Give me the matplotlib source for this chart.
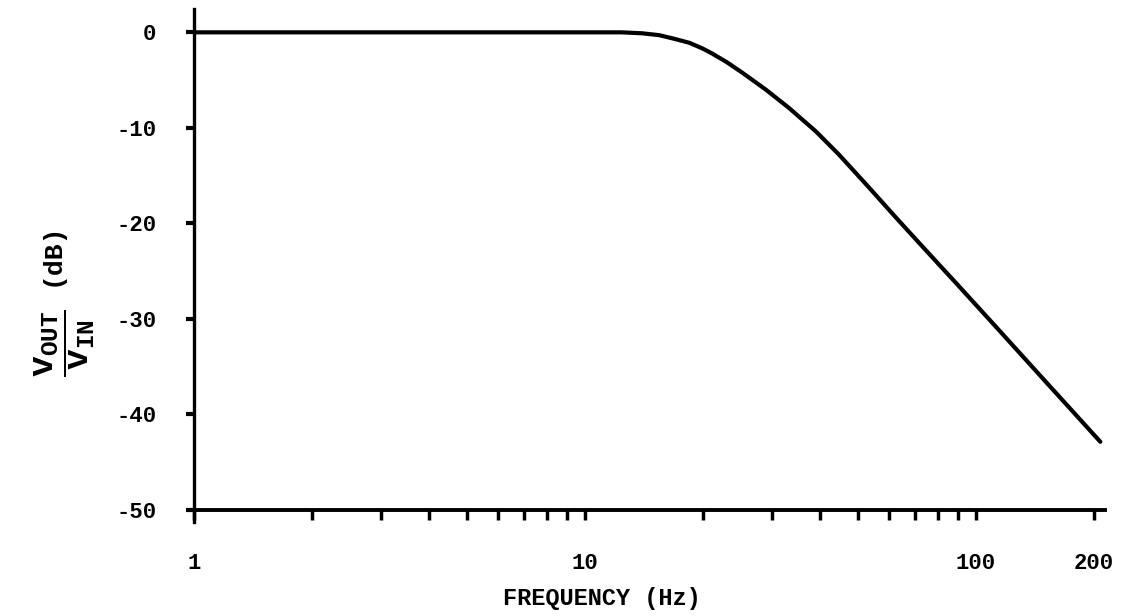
import matplotlib

matplotlib.use("Agg")
import matplotlib.pyplot as plt
from matplotlib.ticker import FixedLocator, NullFormatter

# values
FREQ_HZ = [1, 5, 10, 12.4, 14.0, 15.5, 17.0, 18.5, 20.0, 21.1, 23.0, 25.2,
           29.0, 33.2, 39.0, 44.6, 52.3, 62.4, 72.8, 90.0, 114.5, 150.0, 208.0]
GAIN_DB = [0, 0, 0, 0, -0.1, -0.3, -0.7, -1.1, -1.7, -2.2, -3.1, -4.2,
           -6.0, -7.9, -10.4, -12.8, -15.9, -19.4, -22.4, -26.5, -31.2, -36.5, -42.9]

Y_TICKS = [0, -10, -20, -30, -40, -50]
X_MAJOR = [1, 10, 100, 200]
X_LABELS = ["1", "10", "100", "200"]
X_MINOR = [2, 3, 4, 5, 6, 7, 8, 9, 20, 30, 40, 50, 60, 70, 80, 90]

FONT = "Liberation Mono"
plt.rcParams["font.family"] = FONT
plt.rcParams["font.weight"] = "bold"
plt.rcParams["axes.unicode_minus"] = False
plt.rcParams["mathtext.fontset"] = "custom"
plt.rcParams["mathtext.rm"] = "Liberation Mono:bold"
plt.rcParams["mathtext.it"] = "Liberation Mono:bold"
plt.rcParams["mathtext.bf"] = "Liberation Mono:bold"

fig = plt.figure(figsize=(11.31, 6.16), dpi=100)
ax = fig.add_axes([0.1662, 0.1526, 0.8108, 0.8321])

ax.plot(FREQ_HZ, GAIN_DB, color="black", linewidth=3.0, solid_capstyle="round")

ax.set_xscale("log")
ax.set_xlim(10 ** (-6 / 391), 10 ** (911 / 391))
ax.set_ylim(-51.3, 2.4)

for side in ("top", "right"):
    ax.spines[side].set_visible(False)
ax.spines["left"].set_position(("data", 1))
ax.spines["bottom"].set_position(("data", -50))
ax.spines["left"].set_linewidth(2.4)
ax.spines["bottom"].set_linewidth(2.8)

ax.set_yticks(Y_TICKS)
ax.set_yticklabels([str(v) for v in Y_TICKS])
ax.xaxis.set_major_locator(FixedLocator(X_MAJOR))
ax.set_xticklabels(X_LABELS)
ax.xaxis.set_minor_locator(FixedLocator(X_MINOR))
ax.xaxis.set_minor_formatter(NullFormatter())

ax.tick_params(axis="y", direction="out", length=6, width=3, pad=21, labelsize=16)
ax.tick_params(axis="x", which="both", direction="out", length=7, width=2.5,
               pad=24, labelsize=16)

ax.set_xlabel("FREQUENCY (Hz)", fontsize=17, fontweight="bold", va="center")
ax.xaxis.set_label_coords(0.4515, -0.150)

# the ratio is drawn larger than the "(dB)" unit in the original
ax.set_ylabel(r"$\dfrac{\mathrm{v}_{\mathrm{OUT}}}{\mathrm{v}_{\mathrm{IN}}}$",
              fontsize=25, fontweight="bold")
ax.yaxis.set_label_coords(-0.099, 0.350)
fig.text(52 / 1131, 1 - 254 / 616, "(dB)", rotation=90, fontsize=19,
         fontweight="bold", ha="center", va="center")

fig.savefig("out.png", dpi=100)
plt.close(fig)
